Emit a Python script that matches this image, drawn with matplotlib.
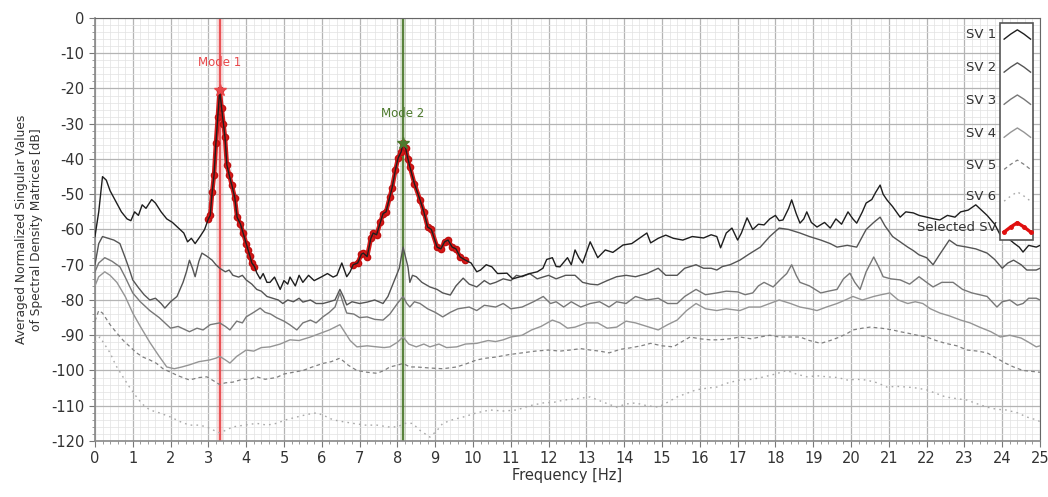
import numpy as np
import matplotlib
matplotlib.use("Agg")
import matplotlib.pyplot as plt
from matplotlib.patches import Rectangle
from matplotlib.ticker import MultipleLocator

plt.rcParams["axes.unicode_minus"] = False

# ---- data (frequency in Hz, level in dB) ----
sv1_f = [0.0, 0.1, 0.2, 0.3, 0.4, 0.55, 0.7, 0.85, 0.95, 1.05, 1.15, 1.25, 1.35, 1.5, 1.6, 1.75, 1.9, 2.05, 2.2,
         2.35, 2.45, 2.55, 2.65, 2.78, 2.9, 3.0, 3.05, 3.1, 3.15, 3.2, 3.25, 3.3, 3.35, 3.4, 3.44, 3.49, 3.55, 3.62,
         3.7, 3.76, 3.85, 3.92, 4.0, 4.05, 4.1, 4.15, 4.22, 4.28, 4.37, 4.45, 4.55, 4.63, 4.75, 4.9, 5.0, 5.1, 5.16,
         5.3, 5.4, 5.5, 5.65, 5.8, 6.0, 6.15, 6.3, 6.4, 6.53, 6.66, 6.75, 6.83, 6.95, 7.05, 7.1, 7.2, 7.3, 7.36, 7.45,
         7.55, 7.62, 7.7, 7.8, 7.86, 7.95, 8.02, 8.1, 8.15, 8.22, 8.28, 8.33, 8.45, 8.6, 8.7, 8.8, 8.9, 9.05, 9.15,
         9.25, 9.34, 9.45, 9.55, 9.66, 9.8, 9.95, 10.1, 10.2, 10.35, 10.5, 10.65, 10.9, 11.05, 11.25, 11.5, 11.7,
         11.85, 11.95, 12.1, 12.2, 12.3, 12.5, 12.6, 12.7, 12.8, 12.9, 13.1, 13.3, 13.5, 13.7, 13.97, 14.2, 14.4,
         14.6, 14.7, 14.9, 15.1, 15.3, 15.55, 15.8, 16.1, 16.3, 16.45, 16.55, 16.7, 16.85, 17.0, 17.1, 17.25, 17.4,
         17.55, 17.7, 17.85, 18.0, 18.1, 18.2, 18.35, 18.43, 18.55, 18.65, 18.75, 18.83, 18.95, 19.1, 19.3, 19.45,
         19.6, 19.75, 19.92, 20.05, 20.15, 20.3, 20.4, 20.55, 20.65, 20.77, 20.85, 20.95, 21.1, 21.3, 21.45, 21.65,
         21.8, 22.0, 22.2, 22.35, 22.55, 22.75, 22.9, 23.1, 23.3, 23.45, 23.6, 23.8, 23.95, 24.1, 24.3, 24.45,
         24.55, 24.7, 24.9, 25.0]
sv1_db = [-62, -55, -45, -46, -49, -52, -55, -57, -57.5, -55, -56, -53, -54, -51.5, -52.5, -55, -57, -58, -59.5,
          -61, -63.5, -62.5, -64, -62, -60, -57, -56, -49.5, -44.5, -35.5, -28, -20.5, -25.5, -30, -33.8, -41.7,
          -44.5, -47.4, -51, -56.5, -58.5, -61, -64, -65.8, -67.5, -69.5, -70.5, -72.3, -74, -72.5, -75, -75, -73.5,
          -77, -74.5, -75.5, -73.5, -76, -73, -75, -73, -74.5, -73.4, -72.5, -73.5, -73, -69.5, -73.4, -72, -70,
          -69.5, -67, -66.7, -67.7, -62.5, -61, -61.5, -58, -55.5, -55, -50.8, -48.2, -43, -39.7, -38, -35.5, -37,
          -40, -42.2, -47, -51.6, -55, -59.3, -60, -65, -65.5, -63.5, -63, -65, -65.5, -67.8, -68.7, -69.5, -72,
          -71.5, -70, -70.6, -72.5, -72.4, -74, -73.4, -72.5, -72, -71, -68.5, -68, -70.5, -70.6, -68, -70, -65.8,
          -68, -69.5, -63.5, -68, -65.8, -66.5, -64.4, -64, -62.5, -61, -63.8, -62.5, -61.6, -62.5, -63, -62, -62.4,
          -61.5, -62, -65.2, -61, -59.6, -63, -61, -56.7, -60, -58.5, -58.7, -57, -56, -57.5, -57.3, -54, -51.6,
          -55.5, -58.2, -57, -55, -58, -59.3, -58, -59.6, -57, -58.5, -55, -57, -58.2, -55, -52.5, -51.5, -49.5,
          -47.4, -50, -51.6, -53.5, -56.5, -55, -55.3, -56, -56.5, -57, -57.3, -56, -56.5, -55, -54.5, -53, -54.5,
          -56, -58.5, -61.6, -62, -63.8, -65, -66.4, -64.5, -65, -64.5]

sv2_f = [0.0, 0.1, 0.2, 0.35, 0.5, 0.66, 0.8, 0.9, 1.0, 1.15, 1.3, 1.45, 1.6, 1.75, 1.85, 2.0, 2.17, 2.25, 2.33,
         2.42, 2.5, 2.58, 2.65, 2.75, 2.83, 2.95, 3.1, 3.2, 3.3, 3.45, 3.55, 3.65, 3.8, 3.9, 4.0, 4.15, 4.28, 4.4,
         4.55, 4.7, 4.85, 4.97, 5.1, 5.25, 5.4, 5.5, 5.7, 5.85, 6.03, 6.2, 6.35, 6.48, 6.57, 6.66, 6.8, 7.0, 7.2,
         7.4, 7.62, 7.75, 7.9, 8.05, 8.15, 8.22, 8.28, 8.33, 8.4, 8.5, 8.65, 8.86, 9.05, 9.2, 9.4, 9.55, 9.74, 9.9,
         10.1, 10.3, 10.45, 10.6, 10.8, 11.0, 11.15, 11.3, 11.5, 11.7, 12.0, 12.2, 12.45, 12.7, 12.9, 13.1, 13.3,
         13.55, 13.8, 14.05, 14.3, 14.6, 14.9, 15.1, 15.4, 15.6, 15.9, 16.1, 16.3, 16.45, 16.6, 16.8, 17.06, 17.3,
         17.6, 17.85, 18.1, 18.35, 18.65, 18.9, 19.2, 19.45, 19.63, 19.9, 20.15, 20.3, 20.4, 20.6, 20.77, 20.9,
         21.1, 21.3, 21.5, 21.65, 21.8, 22.0, 22.17, 22.35, 22.6, 22.8, 23.07, 23.3, 23.6, 23.8, 24.0, 24.15, 24.3,
         24.5, 24.65, 24.9, 25.0]
sv2_db = [-70, -64, -62, -62.5, -63, -64, -68, -71, -74.3, -76.5, -78.5, -80, -79.5, -81, -82.3, -80.5, -79, -77,
          -75, -72, -68.7, -71, -73.4, -69, -66.7, -67.5, -68.7, -70, -71, -72, -71.5, -73, -73.5, -73, -74.3,
          -75.5, -77, -77.5, -79, -79.5, -80, -81, -80, -80.5, -79.5, -80.6, -80, -81, -81, -80.5, -80, -77, -79,
          -81.4, -80.5, -81, -80.6, -80, -81, -79, -75, -71, -65, -68, -70.6, -75, -73, -73.4, -75, -76.3, -77, -78,
          -78.6, -76, -73.8, -75.5, -76.3, -74.5, -75.5, -75, -74, -74.5, -73, -73.4, -72.5, -74, -73, -74, -73,
          -73, -75, -75.5, -75.7, -74.5, -73.4, -73, -73.4, -72.5, -71, -73, -73, -71, -70, -71, -71, -71.5, -70.5,
          -70, -68.7, -67, -65, -62, -59.6, -60, -61, -62, -63, -64, -65, -64.5, -65, -62, -60, -58, -56.5, -59, -62,
          -63.5, -65, -66, -67.2, -68, -70, -67, -63, -64.5, -65, -65.5, -66.7, -68.5, -71, -69.5, -68.7, -70, -71.5,
          -71.5, -71]

sv3_f = [0.0, 0.1, 0.26, 0.45, 0.66, 0.8, 1.0, 1.2, 1.45, 1.7, 2.0, 2.2, 2.5, 2.7, 2.86, 3.05, 3.3, 3.45, 3.57,
         3.75, 3.9, 4.0, 4.2, 4.37, 4.5, 4.65, 4.8, 5.0, 5.15, 5.34, 5.5, 5.7, 5.85, 6.03, 6.2, 6.35, 6.48, 6.57,
         6.66, 6.85, 7.0, 7.2, 7.4, 7.62, 7.8, 8.0, 8.15, 8.25, 8.33, 8.45, 8.6, 8.8, 9.0, 9.2, 9.4, 9.6, 9.9, 10.1,
         10.3, 10.6, 10.8, 11.0, 11.3, 11.6, 11.86, 12.05, 12.2, 12.4, 12.6, 12.85, 13.1, 13.35, 13.6, 13.8, 14.05,
         14.3, 14.6, 14.9, 15.15, 15.4, 15.6, 15.9, 16.15, 16.45, 16.7, 17.0, 17.2, 17.4, 17.55, 17.7, 17.94, 18.15,
         18.3, 18.43, 18.55, 18.65, 18.9, 19.2, 19.4, 19.63, 19.8, 19.97, 20.1, 20.24, 20.4, 20.6, 20.75, 20.85,
         21.05, 21.3, 21.55, 21.8, 22.0, 22.17, 22.4, 22.7, 22.95, 23.2, 23.4, 23.6, 23.86, 24.0, 24.2, 24.4, 24.55,
         24.7, 24.9, 25.0]
sv3_db = [-72, -69.5, -68, -69, -70.6, -73.5, -78, -80.5, -83, -85, -88, -87.5, -89, -88, -88.5, -87, -86.5,
          -87.5, -88.5, -86, -86.5, -84.8, -83.5, -82.3, -83.5, -84, -85, -86, -87, -88.5, -86.5, -85.7, -86.5,
          -84.8, -83.5, -82, -78, -81, -83.7, -84, -85, -84.8, -85.5, -85.7, -84, -81, -79, -81, -82, -80.5, -81,
          -82.5, -83.5, -84.8, -83.5, -82.5, -82, -83, -81.5, -82, -81, -82.5, -82, -80.5, -79, -81, -80.5, -82,
          -80.5, -82, -81, -80.5, -82, -80.5, -81, -79, -80, -79.5, -81, -81, -79, -77, -78.5, -78, -77.5, -77.7,
          -78.5, -78, -76, -75, -76.3, -74, -72.5, -70, -73, -75, -76, -78, -77.5, -77, -74, -72.4, -75, -77, -72,
          -67.8, -71, -73.4, -74, -74.3, -75.5, -73.4, -75, -76.3, -75, -75, -77, -78, -78.5, -79, -82, -80.5, -80,
          -81.5, -81, -79.5, -79.5, -80]

sv4_f = [0.0, 0.1, 0.26, 0.4, 0.58, 0.8, 1.0, 1.2, 1.45, 1.7, 1.9, 2.1, 2.3, 2.5, 2.75, 3.04, 3.2, 3.3, 3.45,
         3.57, 3.75, 4.0, 4.2, 4.4, 4.63, 4.9, 5.16, 5.4, 5.7, 5.95, 6.2, 6.48, 6.6, 6.75, 6.93, 7.2, 7.46, 7.65,
         7.8, 8.0, 8.15, 8.3, 8.5, 8.7, 8.86, 9.1, 9.3, 9.57, 9.8, 10.1, 10.4, 10.6, 10.8, 11.0, 11.3, 11.55, 11.8,
         12.1, 12.3, 12.5, 12.7, 13.0, 13.3, 13.55, 13.8, 14.05, 14.3, 14.6, 14.9, 15.15, 15.4, 15.65, 15.9, 16.15,
         16.45, 16.7, 17.06, 17.3, 17.6, 17.85, 18.1, 18.4, 18.65, 18.9, 19.1, 19.35, 19.63, 19.85, 20.05, 20.3,
         20.6, 20.8, 21.03, 21.25, 21.5, 21.7, 21.9, 22.1, 22.35, 22.6, 22.9, 23.15, 23.4, 23.7, 23.95, 24.2, 24.5,
         24.7, 24.9, 25.0]
sv4_db = [-76, -73.4, -72, -73, -75, -79, -83.7, -87.5, -92, -96, -99, -99.5, -99, -98.4, -97.5, -97, -96.5, -96,
          -97, -97.9, -96, -94.2, -94.5, -93.5, -93.3, -92.5, -91.3, -91.5, -90.5, -89.5, -88.5, -87, -89, -91.5,
          -93.3, -93, -93.3, -93.5, -93.3, -92, -90.5, -92.5, -93.3, -92.5, -93.3, -92.5, -93.5, -93.3, -92.5,
          -92.3, -91.5, -91.8, -91.3, -90.5, -90, -88.5, -87.5, -85.7, -86.5, -88, -87.7, -86.5, -86.5, -88, -87.7,
          -86, -86.5, -87.5, -88.5, -87, -85.7, -83, -81, -82.5, -83, -82.5, -83, -82, -82, -81, -80, -81, -82,
          -82.5, -83, -82, -81, -80, -79, -80, -79, -78.5, -78, -80, -81, -80.5, -81, -82.5, -83.7, -84.5, -85.7,
          -86.5, -87.7, -89, -90.5, -90, -90.8, -92, -93.3, -93]

sv5_f = [0.0, 0.1, 0.2, 0.4, 0.58, 0.75, 0.93, 1.1, 1.27, 1.45, 1.63, 1.8, 1.98, 2.2, 2.5, 2.75, 2.96, 3.15, 3.3,
         3.45, 3.65, 3.9, 4.1, 4.28, 4.5, 4.8, 5.0, 5.25, 5.5, 5.75, 6.03, 6.25, 6.48, 6.7, 6.93, 7.2, 7.46, 7.65,
         7.8, 8.0, 8.15, 8.33, 8.5, 8.86, 9.2, 9.57, 9.85, 10.1, 10.35, 10.6, 10.95, 11.3, 11.65, 12.0, 12.3, 12.57,
         12.85, 13.1, 13.35, 13.6, 13.9, 14.15, 14.45, 14.7, 15.0, 15.3, 15.5, 15.74, 16.0, 16.27, 16.5, 16.8,
         17.06, 17.35, 17.6, 17.85, 18.1, 18.4, 18.65, 18.9, 19.2, 19.45, 19.7, 19.9, 20.05, 20.3, 20.5, 20.8,
         21.1, 21.3, 21.5, 21.75, 22.0, 22.25, 22.5, 22.8, 23.07, 23.35, 23.6, 23.85, 24.1, 24.3, 24.55, 24.75,
         24.9, 25.0]
sv5_db = [-86, -83, -83.7, -87, -89.4, -91.5, -93.3, -95, -96.2, -97, -98, -99.5, -100.4, -101.5, -102.7, -102,
          -101.8, -103, -104, -103.5, -103.3, -102.5, -102.5, -101.8, -102.5, -102, -101, -100.5, -100, -99, -98,
          -97.5, -96.5, -98.5, -100, -100.5, -100.8, -100, -99, -98.5, -98, -99, -99, -99.3, -99.5, -99, -98, -97,
          -96.5, -96.2, -95.5, -95, -94.5, -94.2, -94.5, -94.2, -93.8, -94.2, -94.5, -95, -94, -93.6, -93, -92.3,
          -93, -93.3, -92, -90.5, -91, -91.3, -91.3, -91, -90.5, -91, -90.5, -90, -90.5, -90.5, -90.5, -91.5,
          -92.3, -91.5, -90.5, -89.5, -88.5, -88, -87.7, -88, -88.5, -89, -89.4, -90, -90.5, -91.5, -92.3, -93,
          -94.2, -94.5, -95, -96.5, -98, -99, -100, -100.2, -100.4, -100.5]

sv6_f = [0.0, 0.13, 0.25, 0.4, 0.55, 0.74, 0.9, 1.1, 1.25, 1.45, 1.7, 2.0, 2.25, 2.5, 2.75, 2.96, 3.15, 3.3, 3.45,
         3.65, 3.95, 4.28, 4.55, 4.8, 5.05, 5.34, 5.6, 5.87, 6.1, 6.3, 6.55, 6.83, 7.15, 7.46, 7.75, 8.0, 8.2, 8.4,
         8.6, 8.86, 9.05, 9.2, 9.45, 9.74, 10.1, 10.45, 10.8, 11.16, 11.5, 11.86, 12.15, 12.4, 12.75, 13.1, 13.45,
         13.8, 14.05, 14.3, 14.6, 14.9, 15.15, 15.4, 15.65, 15.9, 16.2, 16.45, 16.75, 17.06, 17.4, 17.7, 18.0,
         18.3, 18.55, 18.83, 19.1, 19.37, 19.65, 19.9, 20.15, 20.4, 20.7, 20.95, 21.2, 21.5, 21.75, 22.0, 22.25,
         22.5, 22.8, 23.07, 23.35, 23.6, 23.85, 24.1, 24.4, 24.65, 24.9, 25.0]
sv6_db = [-92, -90.5, -92.5, -95, -98.5, -101.8, -104.5, -107.5, -109.5, -111.2, -112, -113.2, -114.5, -115.5,
          -115.5, -116, -117, -117.7, -117, -116, -115.5, -115, -115.5, -115, -114, -113.2, -112.5, -112, -113,
          -114, -114.5, -115, -115.5, -115.5, -116, -116, -115, -115, -117, -118.9, -117, -115, -114, -113.2, -112,
          -111.2, -111.5, -111.2, -110, -109.2, -109, -108.4, -108, -107.5, -109, -110.4, -109.5, -109.2, -110,
          -110.4, -109, -107.5, -106.5, -105.5, -105, -104.7, -103.5, -102.7, -102.5, -101.8, -101, -100, -101,
          -101.8, -101.5, -101.8, -102, -102.7, -102.5, -102.7, -103.5, -104.7, -104.5, -104.7, -105, -105.5,
          -106.5, -107.5, -108, -108.4, -109.5, -110.4, -111, -111.2, -112, -113.2, -114, -114.5]

# selected frequency bands (on SV1) and picked modes
selected_bands = [(3.0, 4.22), (6.83, 9.8)]
mode_names = ["Mode 1", "Mode 2"]
mode_freqs = [3.3, 8.15]
mode_colors = ["#e8474a", "#4e7a2e"]
mode_label_db = [-12.5, -27]

series_labels = ["SV 1", "SV 2", "SV 3", "SV 4", "SV 5", "SV 6"]
series_f = [sv1_f, sv2_f, sv3_f, sv4_f, sv5_f, sv6_f]
series_db = [sv1_db, sv2_db, sv3_db, sv4_db, sv5_db, sv6_db]
series_colors = ["#1e1e1e", "#555555", "#777777", "#959595", "#808080", "#a8a8a8"]
series_styles = ["-", "-", "-", "-", (0, (3, 2.5)), (0, (1.2, 3))]
series_lw = [1.0, 1.0, 1.0, 1.0, 0.9, 1.0]

fig = plt.figure(figsize=(10.48, 4.97), dpi=100)
ax = fig.add_axes([0.0906, 0.1127, 0.9018, 0.8511])

# grid
ax.set_xlim(0, 25)
ax.set_ylim(-120, 0)
ax.xaxis.set_major_locator(MultipleLocator(1))
ax.xaxis.set_minor_locator(MultipleLocator(0.2))
ax.yaxis.set_major_locator(MultipleLocator(10))
ax.yaxis.set_minor_locator(MultipleLocator(2))
ax.grid(which="major", color="#b4b4b4", linewidth=0.9)
ax.grid(which="minor", color="#e2e2e2", linewidth=0.5)
ax.set_axisbelow(True)

# mode lines
for f, c in zip(mode_freqs, mode_colors):
    ax.axvline(f, color=c, alpha=0.25, linewidth=4, zorder=1)
    ax.axvline(f, color=c, linewidth=1.3, zorder=2)

# selected SV (red) under SV1
f1 = np.array(sv1_f)
d1 = np.array(sv1_db)
for lo, hi in selected_bands:
    m = (f1 >= lo) & (f1 <= hi)
    ax.plot(f1[m], d1[m], color="#d81818", linewidth=3.2, marker="o", markersize=4.5,
            markeredgecolor="#c01010", zorder=3)

# singular value curves, lowest first
for i in range(5, -1, -1):
    ax.plot(series_f[i], series_db[i], color=series_colors[i], linestyle=series_styles[i],
            linewidth=series_lw[i], zorder=4)

# peak markers and mode labels
for name, f, c, ly in zip(mode_names, mode_freqs, mode_colors, mode_label_db):
    k = int(np.argmin(np.abs(f1 - f)))
    ax.plot(f1[k], d1[k], marker="*", markersize=9, color=c, markeredgecolor=c, zorder=5)
    ax.text(f, ly, name, color=c, fontsize=8.5, ha="center", va="center", zorder=6)

# legend drawn as in the reference: labels left of a narrow box with line samples
box = Rectangle((0.958, 0.475), 0.035, 0.513, transform=ax.transAxes, facecolor="white",
                edgecolor="#555555", linewidth=1.2, zorder=7)
ax.add_patch(box)
leg_y = [0.960, 0.882, 0.806, 0.728, 0.652, 0.577, 0.504]
zig_x = np.array([0.962, 0.969, 0.976, 0.983, 0.990])
zig_y = np.array([-0.010, 0.002, 0.012, 0.002, -0.010])
for i, lab in enumerate(series_labels):
    ax.text(0.954, leg_y[i], lab, transform=ax.transAxes, ha="right", va="center",
            fontsize=9.5, color="#333333", zorder=8)
    ax.plot(zig_x, leg_y[i] + zig_y, transform=ax.transAxes, color=series_colors[i],
            linestyle=series_styles[i], linewidth=series_lw[i], zorder=8, clip_on=False)
ax.text(0.954, leg_y[6], "Selected SV", transform=ax.transAxes, ha="right", va="center",
        fontsize=9.5, color="#333333", zorder=8)
ax.plot(zig_x, leg_y[6] + zig_y, transform=ax.transAxes, color="#e01010", linewidth=2.4,
        marker="o", markersize=2.5, zorder=8, clip_on=False)

# axes styling
for side in ["top", "right"]:
    ax.spines[side].set_color("#666666")
for side in ["left", "bottom"]:
    ax.spines[side].set_color("#888888")
    ax.spines[side].set_linewidth(1.2)
ax.tick_params(which="major", length=4, color="#777777", labelsize=10.5, labelcolor="#333333")
ax.tick_params(which="minor", length=2, color="#888888")
ax.set_xlabel("Frequency [Hz]", fontsize=10.5, color="#333333", labelpad=1)
ax.set_ylabel("Averaged Normalized Singular Values\nof Spectral Density Matrices [dB]", fontsize=8.8,
              color="#333333", labelpad=6)

fig.savefig("out.png", dpi=100)
